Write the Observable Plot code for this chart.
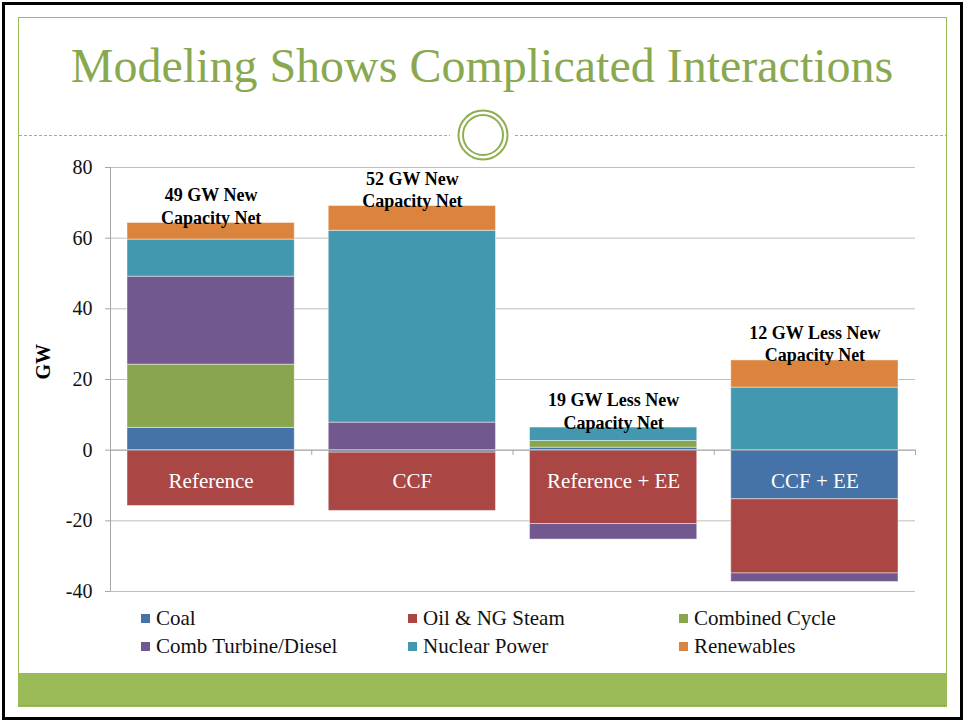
<!DOCTYPE html>
<html>
<head>
<meta charset="utf-8">
<script src="https://cdn.jsdelivr.net/npm/d3@7"></script>
<script src="https://cdn.jsdelivr.net/npm/@observablehq/plot@0.6"></script>
<style>
html, body { margin: 0; padding: 0; background: #fff; }
body { width: 965px; height: 721px; position: relative; overflow: hidden; font-family: "Liberation Serif", "Times New Roman", serif; }
svg text { font-family: "Liberation Serif", "Times New Roman", serif; }
.abs { position: absolute; }
#outer { left: 2px; top: 2px; width: 961px; height: 718px; border: 3px solid #000; box-sizing: border-box; }
#frame { left: 18px; top: 17px; width: 929px; height: 690px; border: 1px solid #9BBB59; box-sizing: border-box; }
#band { left: 19px; top: 673px; width: 927px; height: 33px; background: #9BBB59; border-bottom: 1px solid #8ead4f; box-sizing: border-box; }
#chart { left: 0; top: 150px; }
.item { display: flex; align-items: center; height: 24px; font-size: 21px; color: #111; white-space: nowrap; font-family: "Liberation Serif", "Times New Roman", serif; }
.sw { width: 9px; height: 9px; margin-right: 6px; }
</style>
</head>
<body>
<div id="outer" class="abs"></div>
<div id="frame" class="abs"></div>
<div id="band" class="abs"></div>
<svg class="abs" style="left:0;top:0" width="965" height="721">
  <text x="482" y="82" text-anchor="middle" font-size="48" fill="#89a84f" font-family="Liberation Serif">Modeling Shows Complicated Interactions</text>
  <line x1="19" x2="450" y1="135.5" y2="135.5" stroke="#9BBB59" stroke-width="1" stroke-dasharray="3 2"></line>
  <line x1="515" x2="946" y1="135.5" y2="135.5" stroke="#9BBB59" stroke-width="1" stroke-dasharray="3 2"></line>
  <circle cx="483" cy="135" r="24.5" fill="#fff" stroke="#8fae4f" stroke-width="2"></circle>
  <circle cx="483" cy="135" r="20" fill="none" stroke="#8fae4f" stroke-width="2"></circle>
</svg>
<div id="chart" class="abs"></div>
<div id="legend"></div>
<script>
const categories = ["Reference", "CCF", "Reference + EE", "CCF + EE"];
const seriesNames = ["Coal", "Oil & NG Steam", "Combined Cycle", "Comb Turbine/Diesel", "Nuclear Power", "Renewables"];
const coal = [6.3, -0.7, 0.7, -13.9];
const oilNgSteam = [-15.8, -16.5, -20.9, -21.0];
const combinedCycle = [17.9, 0, 1.9, 0];
const combTurbine = [24.9, 7.8, -4.4, -2.4];
const nuclear = [10.5, 54.3, 3.8, 17.7];
const renewables = [4.7, 7.0, 0, 7.7];
const netLabels = ["49 GW New\nCapacity Net", "52 GW New\nCapacity Net", "19 GW Less New\nCapacity Net", "12 GW Less New\nCapacity Net"];
const colors = ["#4572A7", "#AA4643", "#89A54E", "#71588F", "#4198AF", "#DB843D"];
const yTicks = [-40, -20, 0, 20, 40, 60, 80];

const seriesValues = [coal, oilNgSteam, combinedCycle, combTurbine, nuclear, renewables];
const rows = [];
categories.forEach((c, i) => seriesNames.forEach((s, j) => {
  if (seriesValues[j][i] !== 0) rows.push({i, category: c, series: s, value: seriesValues[j][i]});
}));
const tops = categories.map((c, i) => ({i, label: netLabels[i], top: d3.sum(seriesValues, v => Math.max(0, v[i]))}));
const cats = categories.map((c, i) => ({i, name: c}));
const serif = "Liberation Serif";

const chart = Plot.plot({
  width: 965, height: 450,
  marginLeft: 110, marginRight: 50, marginTop: 17, marginBottom: 9,
  x: {type: "linear", domain: [0, 4], axis: null},
  y: {domain: [-40, 80], axis: null},
  color: {domain: seriesNames, range: colors},
  style: {fontFamily: serif, fontSize: "20px", color: "#111", background: "none", overflow: "visible"},
  marks: [
    Plot.gridY(yTicks, {stroke: "#bfbfbf", strokeOpacity: 1}),
    Plot.rectY(rows, Plot.stackY({x1: d => d.i, x2: d => d.i + 1, y: "value", fill: "series", insetLeft: 17, insetRight: 17, stroke: "#fff", strokeOpacity: 0.45, strokeWidth: 1})),
    Plot.ruleY([0], {stroke: "#a6a6a6"}),
    Plot.ruleX([0], {stroke: "#a6a6a6"}),
    Plot.ruleX([0, 1, 2, 3, 4], {y1: 0, y2: -1.5, stroke: "#a6a6a6"}),
    Plot.axisY(yTicks, {tickSize: 5, tickPadding: 13, stroke: "#a6a6a6", fill: "#111", fontSize: 20, fontFamily: serif, tickFormat: d => String(d), label: null}),
    Plot.text(["GW"], {frameAnchor: "left", dx: -67, rotate: -90, fontWeight: "bold", fontSize: 20, fontFamily: serif, fill: "#000"}),
    Plot.text(cats, {x: d => d.i + 0.5, y: () => 0, text: "name", dy: 31, fill: "white", fontSize: 21, fontFamily: serif}),
    Plot.text(tops, {x: d => d.i + 0.5, y: "top", text: "label", lineAnchor: "bottom", fontWeight: "bold", fontSize: 18, fontFamily: serif, lineHeight: 1.25, fill: "#000", dy: 1})
  ]
});
document.getElementById("chart").appendChild(chart);

// legend (row-major, 3 columns)
const legendX = [141, 408, 679];
const legendY = [618, 646];
const legend = document.getElementById("legend");
seriesNames.forEach((s, j) => {
  const el = document.createElement("div");
  el.className = "abs item";
  el.style.left = legendX[j % 3] + "px";
  el.style.top = (legendY[Math.floor(j / 3)] - 12) + "px";
  const sw = document.createElement("div");
  sw.className = "sw";
  sw.style.background = colors[j];
  const tx = document.createElement("span");
  tx.textContent = s;
  el.appendChild(sw); el.appendChild(tx);
  legend.appendChild(el);
});
</script>
</body>
</html>
